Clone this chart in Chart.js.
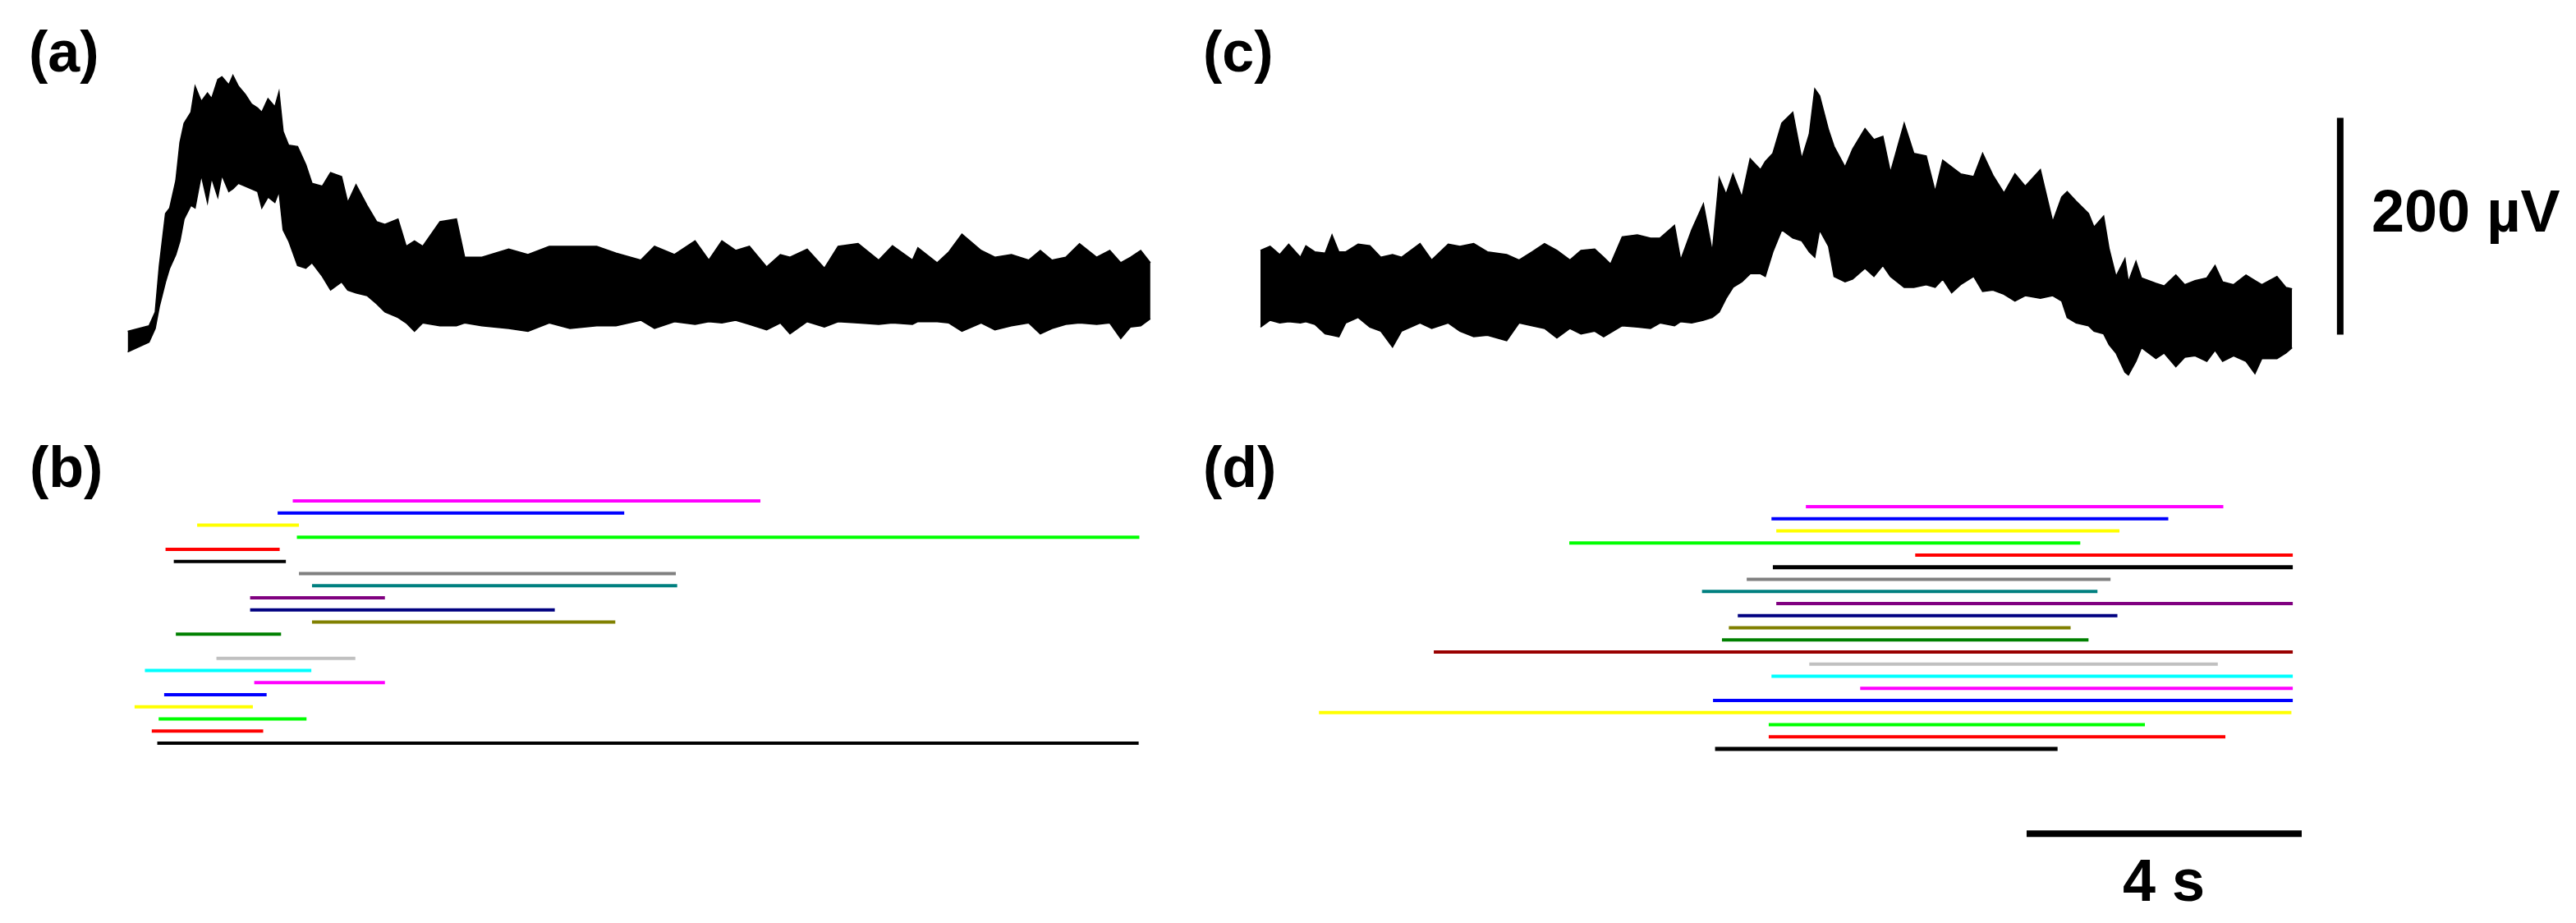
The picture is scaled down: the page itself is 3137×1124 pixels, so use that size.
<!DOCTYPE html>
<html lang="en">
<head>
<meta charset="UTF-8">
<title>Field potential traces and activity segments</title>
<style>
  body { margin: 0; background: #fff; }
  #page {
    position: relative;
    width: 3137px;
    height: 1124px;
    background: #fff;
    overflow: hidden;
    font-family: "Liberation Sans", Arial, sans-serif;
  }
  canvas { position: absolute; }
  .lbl {
    position: absolute;
    font-weight: bold;
    font-size: 70px;
    line-height: 1;
    color: #000;
    white-space: nowrap;
  }
  .unit { font-size: 72px; }
</style>
</head>
<body>
<div id="page">
  <canvas id="traceA" width="1280" height="410" style="left:140px;top:60px"></canvas>
  <canvas id="traceC" width="1360" height="410" style="left:1520px;top:60px"></canvas>
  <canvas id="rasterB" width="1280" height="354" style="left:140px;top:580px"></canvas>
  <canvas id="rasterD" width="1360" height="450" style="left:1520px;top:587px"></canvas>

  <div class="lbl" style="left:35px;top:28px">(a)</div>
  <div class="lbl" style="left:1465px;top:28px">(c)</div>
  <div class="lbl" style="left:36px;top:534px">(b)</div>
  <div class="lbl" style="left:1465px;top:534px">(d)</div>
  <div class="lbl unit" style="left:2888px;top:221px">200 µV</div>
  <div class="lbl unit" style="left:2635px;top:1036px;transform:translateX(-50%)">4 s</div>
</div>

<script src="https://cdn.jsdelivr.net/npm/chart.js"></script>
<script>
// ---- trace (a): time in s, upper / lower edge of the noisy band in uV
const traceATime = [0.03,0.34,0.43,0.49,0.58,0.64,0.73,0.79,0.85,0.95,
  1.01,1.10,1.19,1.25,1.34,1.40,1.50,1.56,1.64,1.74,
  1.83,1.92,1.98,2.07,2.17,2.23,2.29,2.37,2.50,2.62,
  2.71,2.86,2.98,3.14,3.23,3.35,3.51,3.65,3.77,3.96,
  4.08,4.20,4.32,4.57,4.81,4.93,5.18,5.57,5.85,6.16,
  6.46,6.85,7.13,7.49,7.69,7.98,8.28,8.48,8.67,8.87,
  9.07,9.32,9.52,9.66,9.91,10.16,10.36,10.65,10.95,11.15,
  11.44,11.52,11.80,11.97,12.16,12.44,12.64,12.88,13.13,13.30,
  13.47,13.67,13.87,14.12,14.31,14.47,14.61,14.76,14.90];
const traceATop = [-42,-36.9,-24.2,18.7,66.7,71.7,97,132.3,150,160.1,
  184.1,170.2,177.8,172.7,190.4,192.9,185.4,194.2,184.1,176.5,
  167.7,163.9,160.1,172.7,165.2,179,142.4,129.8,128.5,111.7,
  94.5,91.9,104.5,100.8,76.8,93.2,74.2,59.1,56.6,61.6,
  36.4,41.4,36.4,59.1,61.6,26.3,26.3,33.8,28.8,36.4,
  36.4,36.4,30.1,23.7,36.4,28.8,41.4,23.7,41.4,32.6,
  36.4,17.4,28.8,26.3,33.8,16.2,36.4,38.9,23.7,36.9,
  23.7,35.1,21.2,31.3,47.7,32.6,26.3,28.8,23.7,32.6,
  23.7,26.3,38.9,26.3,32.6,21.2,26.3,32.6,21.2];
const traceABottom = [-61,-52,-39.4,-19.2,3.5,16.2,28.8,41.4,61.6,74.2,
  71.7,102,76.8,99.5,81.8,102,86.9,89.4,94.5,91.9,
  89.4,86.9,71.7,81.8,76.8,86.9,51.5,41.4,18.7,16.2,
  21.2,8.6,-4,3.5,-4,-6.6,-9.1,-16.7,-24.2,-29.3,
  -34.3,-42,-34.3,-36.9,-36.9,-34.3,-36.9,-39.4,-42,-34.3,
  -39.4,-36.9,-36.9,-31.8,-39.4,-33.1,-35.6,-33.1,-34.3,-31.8,
  -35.6,-40.7,-34.3,-44.4,-33.1,-38.1,-33.1,-34.3,-35.6,-34.3,
  -35.6,-33.1,-33.1,-34.3,-42,-34.3,-40.7,-36.9,-34.3,-44.4,
  -39.4,-35.6,-34.3,-35.6,-34.3,-48.7,-38.1,-36.9,-30.5];

// ---- trace (c)
const traceCTime = [0.00,0.14,0.28,0.41,0.58,0.66,0.79,0.94,1.04,1.14,
  1.24,1.42,1.59,1.75,1.92,2.05,2.32,2.49,2.73,2.90,
  3.10,3.30,3.58,3.76,3.95,4.13,4.31,4.50,4.66,4.86,
  4.99,5.09,5.26,5.48,5.67,5.81,6.02,6.11,6.27,6.44,
  6.57,6.67,6.77,6.87,7.00,7.12,7.27,7.34,7.45,7.58,
  7.74,7.87,7.98,8.06,8.13,8.26,8.34,8.50,8.61,8.79,
  8.92,9.05,9.16,9.36,9.50,9.68,9.81,9.92,10.05,10.18,
  10.37,10.50,10.65,10.81,10.97,11.12,11.34,11.52,11.65,11.73,
  11.86,12.04,12.12,12.26,12.34,12.44,12.57,12.62,12.73,12.81,
  13.02,13.14,13.31,13.44,13.59,13.76,13.88,13.99,14.15,14.33,
  14.46,14.56,14.78,14.91,15.00];
const traceCTop = [32.6,36.4,28.8,38.4,26.3,36.9,31.3,30.1,47,31.3,
  31.3,38.4,36.9,26.3,28.8,26.3,38.9,23.8,38.4,36.4,
  38.9,31.3,28.8,23.8,31.3,38.9,32.6,23.8,32.6,33.9,
  26.3,20,45.2,47,44,44,55.8,23.8,51.5,75.5,
  31.3,99.5,84.4,103.3,81.8,117.2,107.1,114.7,122.2,150,
  160.1,117.2,139.9,181.6,175.3,143.7,128.6,109.6,126,145,
  134.9,137.9,104.6,150,122.2,119.7,86.9,115.9,109.6,103.3,
  100.8,122.2,102,85.6,103.3,91.9,107.1,59.1,81.8,86.9,
  78,66.7,54.1,64.2,33.9,8.6,25,3.6,22.5,7.3,
  2.3,-0.2,9.9,1,4.8,7.3,18.7,3.6,1,9.9,
  4.8,1,8.6,-1.5,-2.8];
const traceCBottom = [-38.1,-31.8,-34.3,-33.1,-34.3,-33.1,-35.6,-44.4,-45.7,-47,
  -34.3,-29.3,-38.1,-41.9,-56.5,-41.9,-34.3,-39.4,-34.3,-41.9,
  -47,-45.7,-50.7,-34.3,-36.9,-39.4,-48.2,-39.4,-44.4,-41.9,
  -47,-43.2,-36.9,-38.1,-39.4,-34.3,-36.9,-33.1,-34.3,-31.8,
  -29.3,-24.2,-11.6,-1.5,3.6,11.1,11.1,8.6,31.3,51.5,
  44,41.4,31.3,26.3,51.5,36.4,8.6,3.6,6.1,16.2,
  8.6,18.7,8.6,-1.5,-1.5,1,-1.5,6.1,-6.5,1,
  8.6,-5.3,-4,-7.8,-14.1,-9.1,-11.6,-9.1,-14.1,-29.3,
  -34.3,-36.9,-41.9,-44.4,-54.5,-62.1,-79.8,-82.3,-69.7,-57.1,
  -67.2,-62.1,-74.7,-65.9,-64.6,-69.7,-59.6,-69.7,-64.6,-69.7,
  -81,-67.2,-67.2,-62.1,-57.1];

// ---- panel (b): one row per unit, start / end of activity in s (null = empty row)
const rasterBStart = [2.43,2.21,1.04,2.49,0.58,0.70,2.52,2.71,1.81,1.81,2.71,0.73,null,
  1.32,0.28,1.87,0.56,0.13,0.48,0.38,0.46];
const rasterBEnd = [9.23,7.25,2.52,14.74,2.24,2.33,8.00,8.02,3.77,6.24,7.12,2.26,null,
  3.34,2.70,3.77,2.05,1.85,2.63,2.00,14.73];

// ---- panel (d)
const rasterDStart = [7.93,7.43,7.50,4.49,9.52,7.45,7.07,6.42,7.50,6.94,6.81,6.71,2.52,
  7.98,7.43,8.72,6.58,0.85,7.39,7.39,6.61];
const rasterDEnd = [14.00,13.20,12.49,11.92,15.01,15.01,12.36,12.17,15.01,12.46,11.78,12.04,15.01,
  13.92,15.01,15.01,15.01,14.99,12.86,14.03,11.59];

// ---- scale bars
const scaleBarSeconds = 4;
const scaleBarMicroV = 200;

// colours of the rows
const rowColorsB = ['#ff00ff','#0000ff','#ffff00','#00ff00','#ff0000','#000000','#808080','#008080',
  '#800080','#000080','#808000','#008000',null,'#c0c0c0','#00ffff','#ff00ff','#0000ff','#ffff00',
  '#00ff00','#ff0000','#000000'];
const rowColorsD = ['#ff00ff','#0000ff','#ffff00','#00ff00','#ff0000','#000000','#808080','#008080',
  '#800080','#000080','#808000','#008000','#990000','#c0c0c0','#00ffff','#ff00ff','#0000ff','#ffff00',
  '#00ff00','#ff0000','#000000'];

// layout: 4 s = 335 px, 200 uV = 264 px
const PX_PER_S = 83.75;
const PX_PER_UV = 1.32;
const ROW_PX = 14.75;

// time axis ranges so that t = 0 sits where each trace starts
const leftRange = [(140 - 153) / PX_PER_S, (1420 - 153) / PX_PER_S];
const rightRange = [(1520 - 1535) / PX_PER_S, (2880 - 1535) / PX_PER_S];
// uV range of the trace canvases (0 uV at page y = 348)
const uvRange = [(348 - 470) / PX_PER_UV, (348 - 60) / PX_PER_UV];

function baseOptions(xr, yMin, yMax, reverse) {
    return {
        responsive: false,
        animation: false,
        devicePixelRatio: 1,
        events: [],
        layout: { padding: 0 },
        plugins: { legend: { display: false }, tooltip: { enabled: false } },
        elements: { line: { tension: 0 }, point: { radius: 0 } },
        scales: {
            x: { type: 'linear', display: false, min: xr[0], max: xr[1] },
            y: { type: 'linear', display: false, min: yMin, max: yMax, reverse: !!reverse }
        }
    };
}

// upper and lower edge of a trace, area between them filled black
function envelope(time, top, bottom) {
    return [
        {
            data: time.map((t, i) => ({ x: t, y: top[i] })),
            borderColor: '#000', borderWidth: 1.5, fill: false
        },
        {
            data: time.map((t, i) => ({ x: t, y: bottom[i] })),
            borderColor: '#000', borderWidth: 1.5, fill: '-1', backgroundColor: '#000'
        }
    ];
}

// one horizontal segment per row
function segments(starts, ends, colors, blackWidth) {
    const out = [];
    starts.forEach((s, row) => {
        if (s === null) return;
        out.push({
            data: [{ x: s, y: row }, { x: ends[row], y: row }],
            borderColor: colors[row],
            borderWidth: colors[row] === '#000000' ? blackWidth : 4,
            borderCapStyle: 'butt'
        });
    });
    return out;
}

new Chart(document.getElementById('traceA'), {
    type: 'line',
    data: { datasets: envelope(traceATime, traceATop, traceABottom) },
    options: baseOptions(leftRange, uvRange[0], uvRange[1])
});

// vertical scale bar sits right of trace (c)
const voltBarTime = 15.70;
const voltBarLow = -45;
new Chart(document.getElementById('traceC'), {
    type: 'line',
    data: {
        datasets: envelope(traceCTime, traceCTop, traceCBottom).concat([{
            data: [{ x: voltBarTime, y: voltBarLow }, { x: voltBarTime, y: voltBarLow + scaleBarMicroV }],
            borderColor: '#000', borderWidth: 8, borderCapStyle: 'butt'
        }])
    },
    options: baseOptions(rightRange, uvRange[0], uvRange[1])
});

new Chart(document.getElementById('rasterB'), {
    type: 'line',
    data: { datasets: segments(rasterBStart, rasterBEnd, rowColorsB, 4) },
    options: baseOptions(leftRange, -30 / ROW_PX, 324 / ROW_PX, true)
});

// time scale bar under panel (d)
const timeBarStart = 11.14;
const timeBarRow = 27;
new Chart(document.getElementById('rasterD'), {
    type: 'line',
    data: {
        datasets: segments(rasterDStart, rasterDEnd, rowColorsD, 5).concat([{
            data: [{ x: timeBarStart, y: timeBarRow }, { x: timeBarStart + scaleBarSeconds, y: timeBarRow }],
            borderColor: '#000', borderWidth: 8, borderCapStyle: 'butt'
        }])
    },
    options: baseOptions(rightRange, -30 / ROW_PX, 420 / ROW_PX, true)
});
</script>
</body>
</html>
